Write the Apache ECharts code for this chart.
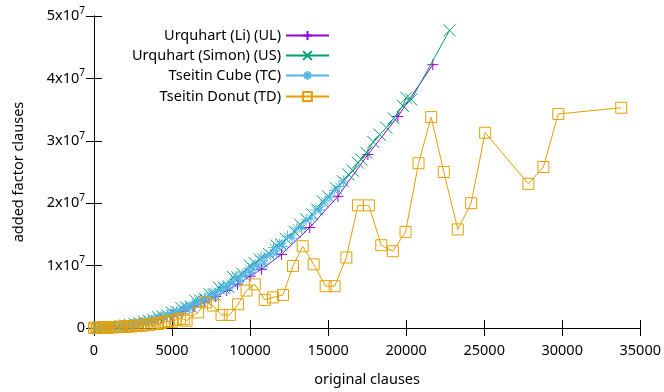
<!DOCTYPE html>
<html><head><meta charset="utf-8">
<script src="https://cdn.jsdelivr.net/npm/echarts@6/dist/echarts.min.js"></script>
<style>html,body{margin:0;padding:0;background:#fff}#c{width:664px;height:392px}</style>
</head><body><div id="c"></div>
<script>
// Urquhart (Li) (UL)
const ulX = [300,800,1300,1900,2500,3100,3700,4300,5000,5700,6400,7100,7800,8500,9200,10000,10730,12010,13820,15630,17550,19470,21710];
const ulY = [0.0075e6,0.053e6,0.14e6,0.3e6,0.52e6,0.8e6,1.14e6,1.54e6,2.08e6,2.7e6,3.4e6,4.18e6,5.05e6,6.0e6,7.0e6,8.3e6,9.4e6,11.8e6,16.1e6,21.1e6,27.8e6,33.9e6,42.2e6];
// Urquhart (Simon) (US)
const usX = [200,500,800,1100,1400,1700,2000,2300,2600,2900,3200,3500,3800,4100,4400,4700,5000,5300,5600,5900,6200,6500,6800,7100,7400,7700,8000,8300,8600,8900,9200,9500,9980,10300,10620,11200,11690,12000,12300,12860,13200,13610,14000,14300,14650,14990,15500,15950,16300,16590,16910,17130,17450,17900,18300,18730,19200,19790,20000,20330,22780];
const usY = [0.0039e6,0.0228e6,0.065e6,0.114e6,0.175e6,0.299e6,0.384e6,0.487e6,0.667e6,0.767e6,1.04e6,1.152e6,1.29e6,1.738e6,1.856e6,2.035e6,2.468e6,2.561e6,3.184e6,3.272e6,3.433e6,4.369e6,4.434e6,4.644e6,5.405e6,5.406e6,6.497e6,6.476e6,6.605e6,8.19e6,8.115e6,8.7e6,10.0e6,10.4e6,11.0e6,11.9e6,13.2e6,13.4e6,14.3e6,15.4e6,16.6e6,17.4e6,18.2e6,19.0e6,20.3e6,21.1e6,22.4e6,23.5e6,24.6e6,25.2e6,26.5e6,27.0e6,28.1e6,29.8e6,31.0e6,32.1e6,33.6e6,35.6e6,36.9e6,36.6e6,47.7e6];
// Tseitin Cube (TC)
const tcX = [100,300,500,700,900,1100,1300,1500,1700,1900,2100,2300,2500,2700,2900,3100,3300,3500,3700,3900,4100,4300,4500,4700,4900,5100,5300,5500,5700,5900,6100,6300,6500,6700,6900,7100,7300,7500,7700,7900,8100,8300,8500,8700,8900,9100,9300,9500,9700,9900,10100,10300,10500,10700,10900,11100,11300,11500,11700,11900,12100,12400,12700,13000,13300,13600,13900,14200,14500,14800,15100,15400,15700,16000];
const tcY = [0.001e6,0.0088e6,0.0219e6,0.0464e6,0.0723e6,0.12e6,0.146e6,0.211e6,0.266e6,0.352e6,0.385e6,0.501e6,0.558e6,0.724e6,0.727e6,0.902e6,1.002e6,1.195e6,1.197e6,1.441e6,1.5e6,1.837e6,1.751e6,2.073e6,2.209e6,2.536e6,2.455e6,2.866e6,2.899e6,3.459e6,3.218e6,3.725e6,3.887e6,4.378e6,4.161e6,4.777e6,4.756e6,5.589e6,5.127e6,5.857e6,6.036e6,6.718e6,6.315e6,7.172e6,7.069e6,8.228e6,7.48e6,8.469e6,8.656e6,9.558e6,8.916e6,10.053e6,9.839e6,11.376e6,10.275e6,11.562e6,11.748e6,12.897e6,11.964e6,13.419e6,13.066e6,14.71e6,14.39e6,16.01e6,15.95e6,17.36e6,17.6e6,18.92e6,18.96e6,20.35e6,20.98e6,22.04e6,22.68e6,23.55e6];
// Tseitin Donut (TD)
const tdX = [0,100,200,300,400,500,600,700,800,900,1000,1150,1300,1450,1600,1750,1900,2050,2200,2350,2500,2650,2800,2950,3100,3300,3500,3700,3900,4100,4300,4500,4750,5000,5250,5500,5750,5930,6670,7166,7633,8170,8700,9232,9770,10300,10940,11472,12111,12751,13370,14075,14843,15419,16168,16910,17613,18407,19149,19962,20794,21606,22412,23308,24165,25060,27831,28791,29750,33781];
const tdY = [0.01e6,0.02e6,0.02e6,0.03e6,0.05e6,0.04e6,0.06e6,0.08e6,0.07e6,0.09e6,0.1e6,0.12e6,0.15e6,0.14e6,0.18e6,0.2e6,0.22e6,0.21e6,0.25e6,0.3e6,0.28e6,0.33e6,0.38e6,0.35e6,0.42e6,0.5e6,0.45e6,0.6e6,0.7e6,0.65e6,0.8e6,0.95e6,1.1e6,1.0e6,1.3e6,1.5e6,1.4e6,1.17e6,2.5e6,4.1e6,3.6e6,2.1e6,2.1e6,3.8e6,6.0e6,7.0e6,4.5e6,4.9e6,5.3e6,9.95e6,13.1e6,10.2e6,6.7e6,6.7e6,11.3e6,19.65e6,19.65e6,13.26e6,12.3e6,15.4e6,26.4e6,33.8e6,25.0e6,15.8e6,20.0e6,31.3e6,23.1e6,25.8e6,34.3e6,35.3e6];

const names = ['Urquhart (Li) (UL)','Urquhart (Simon) (US)','Tseitin Cube (TC)','Tseitin Donut (TD)'];
const colors = ['#9400d3','#009e73','#56b4e9','#e69f00'];
const xTicks = [0,5000,10000,15000,20000,25000,30000,35000];
const yTicks = [0,1e7,2e7,3e7,4e7,5e7];

const SYM = {
  plus: 'path://M5,0L5,10M0,5L10,5',
  cross: 'path://M0,0L10,10M0,10L10,0',
  star: 'path://M5,0L5,10M0,5L10,5M1.5,1.5L8.5,8.5M1.5,8.5L8.5,1.5',
  square: 'path://M0,0L10,0L10,10L0,10Z'
};
const FONT = 'Noto Sans';
const FS = 14.5;
function zip(a,b){return a.map((v,i)=>[v,b[i]]);}
function mk(i, xs, ys, sym, size){
  return {
    name: names[i], type: 'line', data: zip(xs,ys),
    symbol: sym, symbolSize: size, showSymbol: true,
    lineStyle: {color: colors[i], width: 1},
    itemStyle: {color: 'rgba(0,0,0,0)', borderColor: colors[i], borderWidth: 1},
    z: 2 + i, animation: false, clip: false
  };
}
const chart = echarts.init(document.getElementById('c'), null, {renderer: 'canvas'});
const legendRows = [28, 48, 68, 89];
const legends = names.map((n, i) => ({
  data: [n], right: 334, top: legendRows[i], orient: 'vertical', align: 'right',
  itemWidth: 43, itemHeight: 11, padding: 0,
  textStyle: {fontFamily: FONT, fontSize: FS, color: '#000'},
  selectedMode: false
}));
const axCommon = {
  axisLine: {show: true, lineStyle: {color: '#000', width: 1}},
  axisTick: {show: true, inside: true, length: 8, lineStyle: {color: '#000'}},
  splitLine: {show: false}
};
chart.setOption({
  animation: false,
  backgroundColor: '#fff',
  textStyle: {fontFamily: FONT},
  grid: {left: 94, right: 23, top: 16, bottom: 63},
  legend: legends,
  xAxis: [
    Object.assign({type: 'value', min: xTicks[0], max: xTicks[xTicks.length-1], interval: xTicks[1]-xTicks[0],
      name: 'original clauses', nameLocation: 'middle', nameGap: 44,
      nameTextStyle: {fontFamily: FONT, fontSize: FS, color: '#000'},
      axisLabel: {margin: 15, fontFamily: FONT, fontSize: FS, color: '#000', formatter: v => String(v)}}, axCommon),
    Object.assign({type: 'value', position: 'top', min: xTicks[0], max: xTicks[xTicks.length-1], interval: xTicks[1]-xTicks[0],
      axisLabel: {show: false}}, axCommon)
  ],
  yAxis: [
    Object.assign({type: 'value', min: yTicks[0], max: yTicks[yTicks.length-1], interval: yTicks[1]-yTicks[0],
      name: 'added factor clauses', nameLocation: 'middle', nameGap: 68,
      nameTextStyle: {fontFamily: FONT, fontSize: FS, color: '#000'},
      axisLabel: {margin: 9, fontFamily: FONT, fontSize: FS, color: '#000',
        formatter: v => v === 0 ? '0' : '{b|' + Math.round(v/1e7) + 'x10}{s|7}',
        rich: {b: {fontFamily: FONT, fontSize: FS, color: '#000'}, s: {fontFamily: FONT, fontSize: 10, color: '#000', padding: [0,0,10,0]}}}}, axCommon),
    Object.assign({type: 'value', position: 'right', min: yTicks[0], max: yTicks[yTicks.length-1], interval: yTicks[1]-yTicks[0],
      axisLabel: {show: false}}, axCommon)
  ],
  series: [
    mk(0, ulX, ulY, SYM.plus, 11),
    mk(1, usX, usY, SYM.cross, 12),
    mk(2, tcX, tcY, SYM.star, 11),
    mk(3, tdX, tdY, SYM.square, 11)
  ]
});
</script></body></html>
